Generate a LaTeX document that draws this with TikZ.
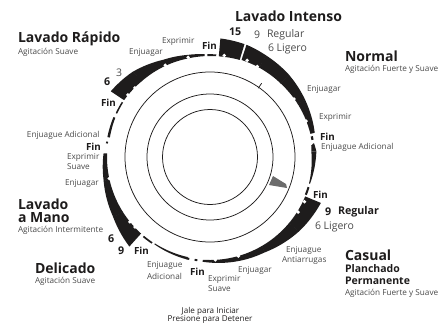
\documentclass[tikz,border=0pt]{standalone}
\usepackage{fontspec}
\setmainfont{Open Sans}
\definecolor{ink}{HTML}{1E1C1C}
\definecolor{soft}{HTML}{4A4A4A}
\newcommand{\band}[6]{\fill[ink] plot[domain=#1:#2,samples=30] ({210+(#3+(#4-#3)*(\x-#1)/(#2-#1))*cos(\x)},{157-(#3+(#4-#3)*(\x-#1)/(#2-#1))*sin(\x)}) -- plot[domain=#2:#1,samples=30] ({210+(#5+(#6-#5)*(\x-#1)/(#2-#1))*cos(\x)},{157-(#5+(#6-#5)*(\x-#1)/(#2-#1))*sin(\x)}) -- cycle;}
\newcommand{\notch}[2]{\fill[white] ({210+#2*cos(#1)},{157-#2*sin(#1)}) circle (1.9);}
\tikzset{
 x=1pt,y=-1pt,
 ring/.style={draw=ink,line width=0.75pt},
 base/.style={inner sep=0pt,outer sep=0pt,anchor=west,align=left},
 title/.style={base,font=\fontsize{14}{15}\selectfont\bfseries,text=ink},
 subtitle/.style={base,font=\fontsize{10.5}{11}\selectfont\bfseries,text=ink},
 fin/.style={base,font=\fontsize{9.8}{10}\selectfont\bfseries,text=ink},
 num/.style={base,font=\fontsize{10.7}{11}\selectfont\bfseries,text=ink},
 numlight/.style={base,font=\fontsize{10.5}{11}\selectfont,text=soft},
 small/.style={base,font=\fontsize{8.2}{9}\selectfont,text=soft},
 pull/.style={inner sep=0pt,font=\fontsize{8.1}{9}\selectfont,text=ink},
}
\begin{document}
\begin{tikzpicture}
\useasboundingbox (0,0) rectangle (444,327);
% rings
\coordinate (c) at (210,157);
\draw[ring] (c) circle (47.5);
\draw[ring] (c) circle (63);
\draw[ring] (c) circle (85);
\draw[ring] ({210+84*cos(55)},{157-84*sin(55)}) -- ({210+90*cos(55)},{157-90*sin(55)});
\fill[gray!85!black] (273,176) -- (269,185) -- (287,188) -- (286,184) -- cycle;
% programme bands: top left
\band{146.5}{132}{119}{115}{103}{102}
\band{132.2}{116}{115}{108}{102}{101.5}
\band{116.2}{102.7}{108}{104.6}{101.5}{101}
\band{102.9}{93}{104.6}{103}{101}{101}
\band{91.5}{86.5}{102.8}{102.8}{101}{101}
% top right
\band{85}{73}{119}{118}{101}{101.5}
\band{72}{61}{118}{116}{102}{102}
\band{61.2}{46}{116}{114}{102}{102}
\band{46.2}{31}{114}{111}{102}{102.5}
\band{31.2}{13}{111}{107.5}{102.5}{103}
\band{11.5}{9.5}{105}{105}{102.8}{102.8}
\band{7.5}{3}{105}{106.5}{102}{101.5}
\band{3}{-15}{106.5}{103.5}{101.5}{102.5}
\band{-17}{-21.5}{104}{104}{102}{102}
% bottom right
\band{-22.5}{-40}{120}{116}{103}{103}
\band{-39.8}{-60}{116}{110}{103}{103}
\band{-59.8}{-74}{110}{108}{103}{103}
\band{-73.8}{-94}{108}{105}{103}{103}
\band{-97}{-98.5}{105}{105}{103}{103}
\band{-101.5}{-103}{105}{105}{103}{103}
% bottom left
\band{257.5}{237.5}{105}{103.5}{102.5}{102.5}
\band{236}{230}{104.5}{104.5}{102.8}{102.8}
\band{228}{212}{120.5}{114}{103}{103}
\band{212.2}{192.6}{114}{109}{103}{103}
\band{192.8}{178}{109}{106.5}{103}{103}
\band{172.5}{171.5}{105}{105}{103}{103}
\band{169}{157.5}{104.5}{104.5}{102}{102.5}
\band{155}{148}{104}{104}{102.5}{102.5}
% notches
\foreach \a/\r in {137.4/102,142.9/103,116/102,102.4/102,82/102.5,69/103.5,62.4/102,34.6/102,20.5/102.5,
  -25.3/104.5,-32/104,-87/103,-74/103,219/103,223/102.6,192/103,7.5/102}{\notch{\a}{\r}}
% titles
\node[title] (t1) at (235,16) {Lavado Intenso};
\node[title] (t2) at (18,39) {Lavado Rápido};
\node[small] (s2) at (18,52) {Agitación Suave};
\node[title] (t3) at (345,56) {Normal};
\node[small] (s3) at (345,69) {Agitación Fuerte y Suave};
\node[title] (t4) at (18,204) {Lavado};
\node[title] (t4b) at (18,218) {a Mano};
\node[small] (s4) at (18,230.5) {Agitación Intermitente};
\node[title] (t5) at (35,268) {Delicado};
\node[small] (s5) at (35,281) {Agitación Suave};
\node[title] (t6) at (345,255) {Casual};
\node[subtitle] (t6b) at (345,269) {Planchado};
\node[subtitle] (t6c) at (345,281) {Permanente};
\node[small] (s6) at (345,293) {Agitación Fuerte y Suave};
% times
\node[num] (n15) at (229,32) {15};
\node[numlight] (n9a) at (254,35) {9};
\node[numlight] (n9b) at (267,35) {Regular};
\node[numlight] (n6a) at (268,49) {6 Ligero};
\node[num] (n9c) at (325,212) {9};
\node[num] (n9d) at (338,212) {Regular};
\node[numlight] (n6b) at (315,227) {6 Ligero};
\node[num] (n6c) at (108,239) {6};
\node[num] (n9e) at (118,251) {9};
\node[num] (n6d) at (104,82) {6};
\node[numlight] (n3) at (116,73) {3};
% Fin
\node[fin] (f1) at (202,46) {Fin};
\node[fin] (f2) at (320,137) {Fin};
\node[fin] (f3) at (313,195) {Fin};
\node[fin] (f4) at (190,272) {Fin};
\node[fin] (f5) at (134,251) {Fin};
\node[fin] (f6) at (86,147) {Fin};
\node[fin] (f7) at (101,103) {Fin};
% steps
\node[small] (a1) at (162,41) {Exprimir};
\node[small] (a2) at (129,52) {Enjuagar};
\node[small] (a3) at (307,89) {Enjuagar};
\node[small] (a4) at (319,117) {Exprimir};
\node[small] (a5) at (321,147) {Enjuague Adicional};
\node[small] (a6) at (286,250) {Enjuague};
\node[small] (a7) at (282,260) {Antiarrugas};
\node[small] (a8) at (238,270) {Enjuagar};
\node[small] (a9) at (208,279) {Exprimir};
\node[small] (a10) at (208,289) {Suave};
\node[small] (a11) at (147,265) {Enjuague};
\node[small] (a12) at (147,276) {Adicional};
\node[small] (a13) at (65,183) {Enjuagar};
\node[small] (a14) at (67,157) {Exprimir};
\node[small] (a15) at (67,167) {Suave};
\node[small] (a16) at (27,135) {Enjuague Adicional};
% pull
\node[pull] (p1) at (210.5,311) {Jale para Iniciar};
\node[pull] (p2) at (210,319) {Presione para Detener};
\end{tikzpicture}
\end{document}
